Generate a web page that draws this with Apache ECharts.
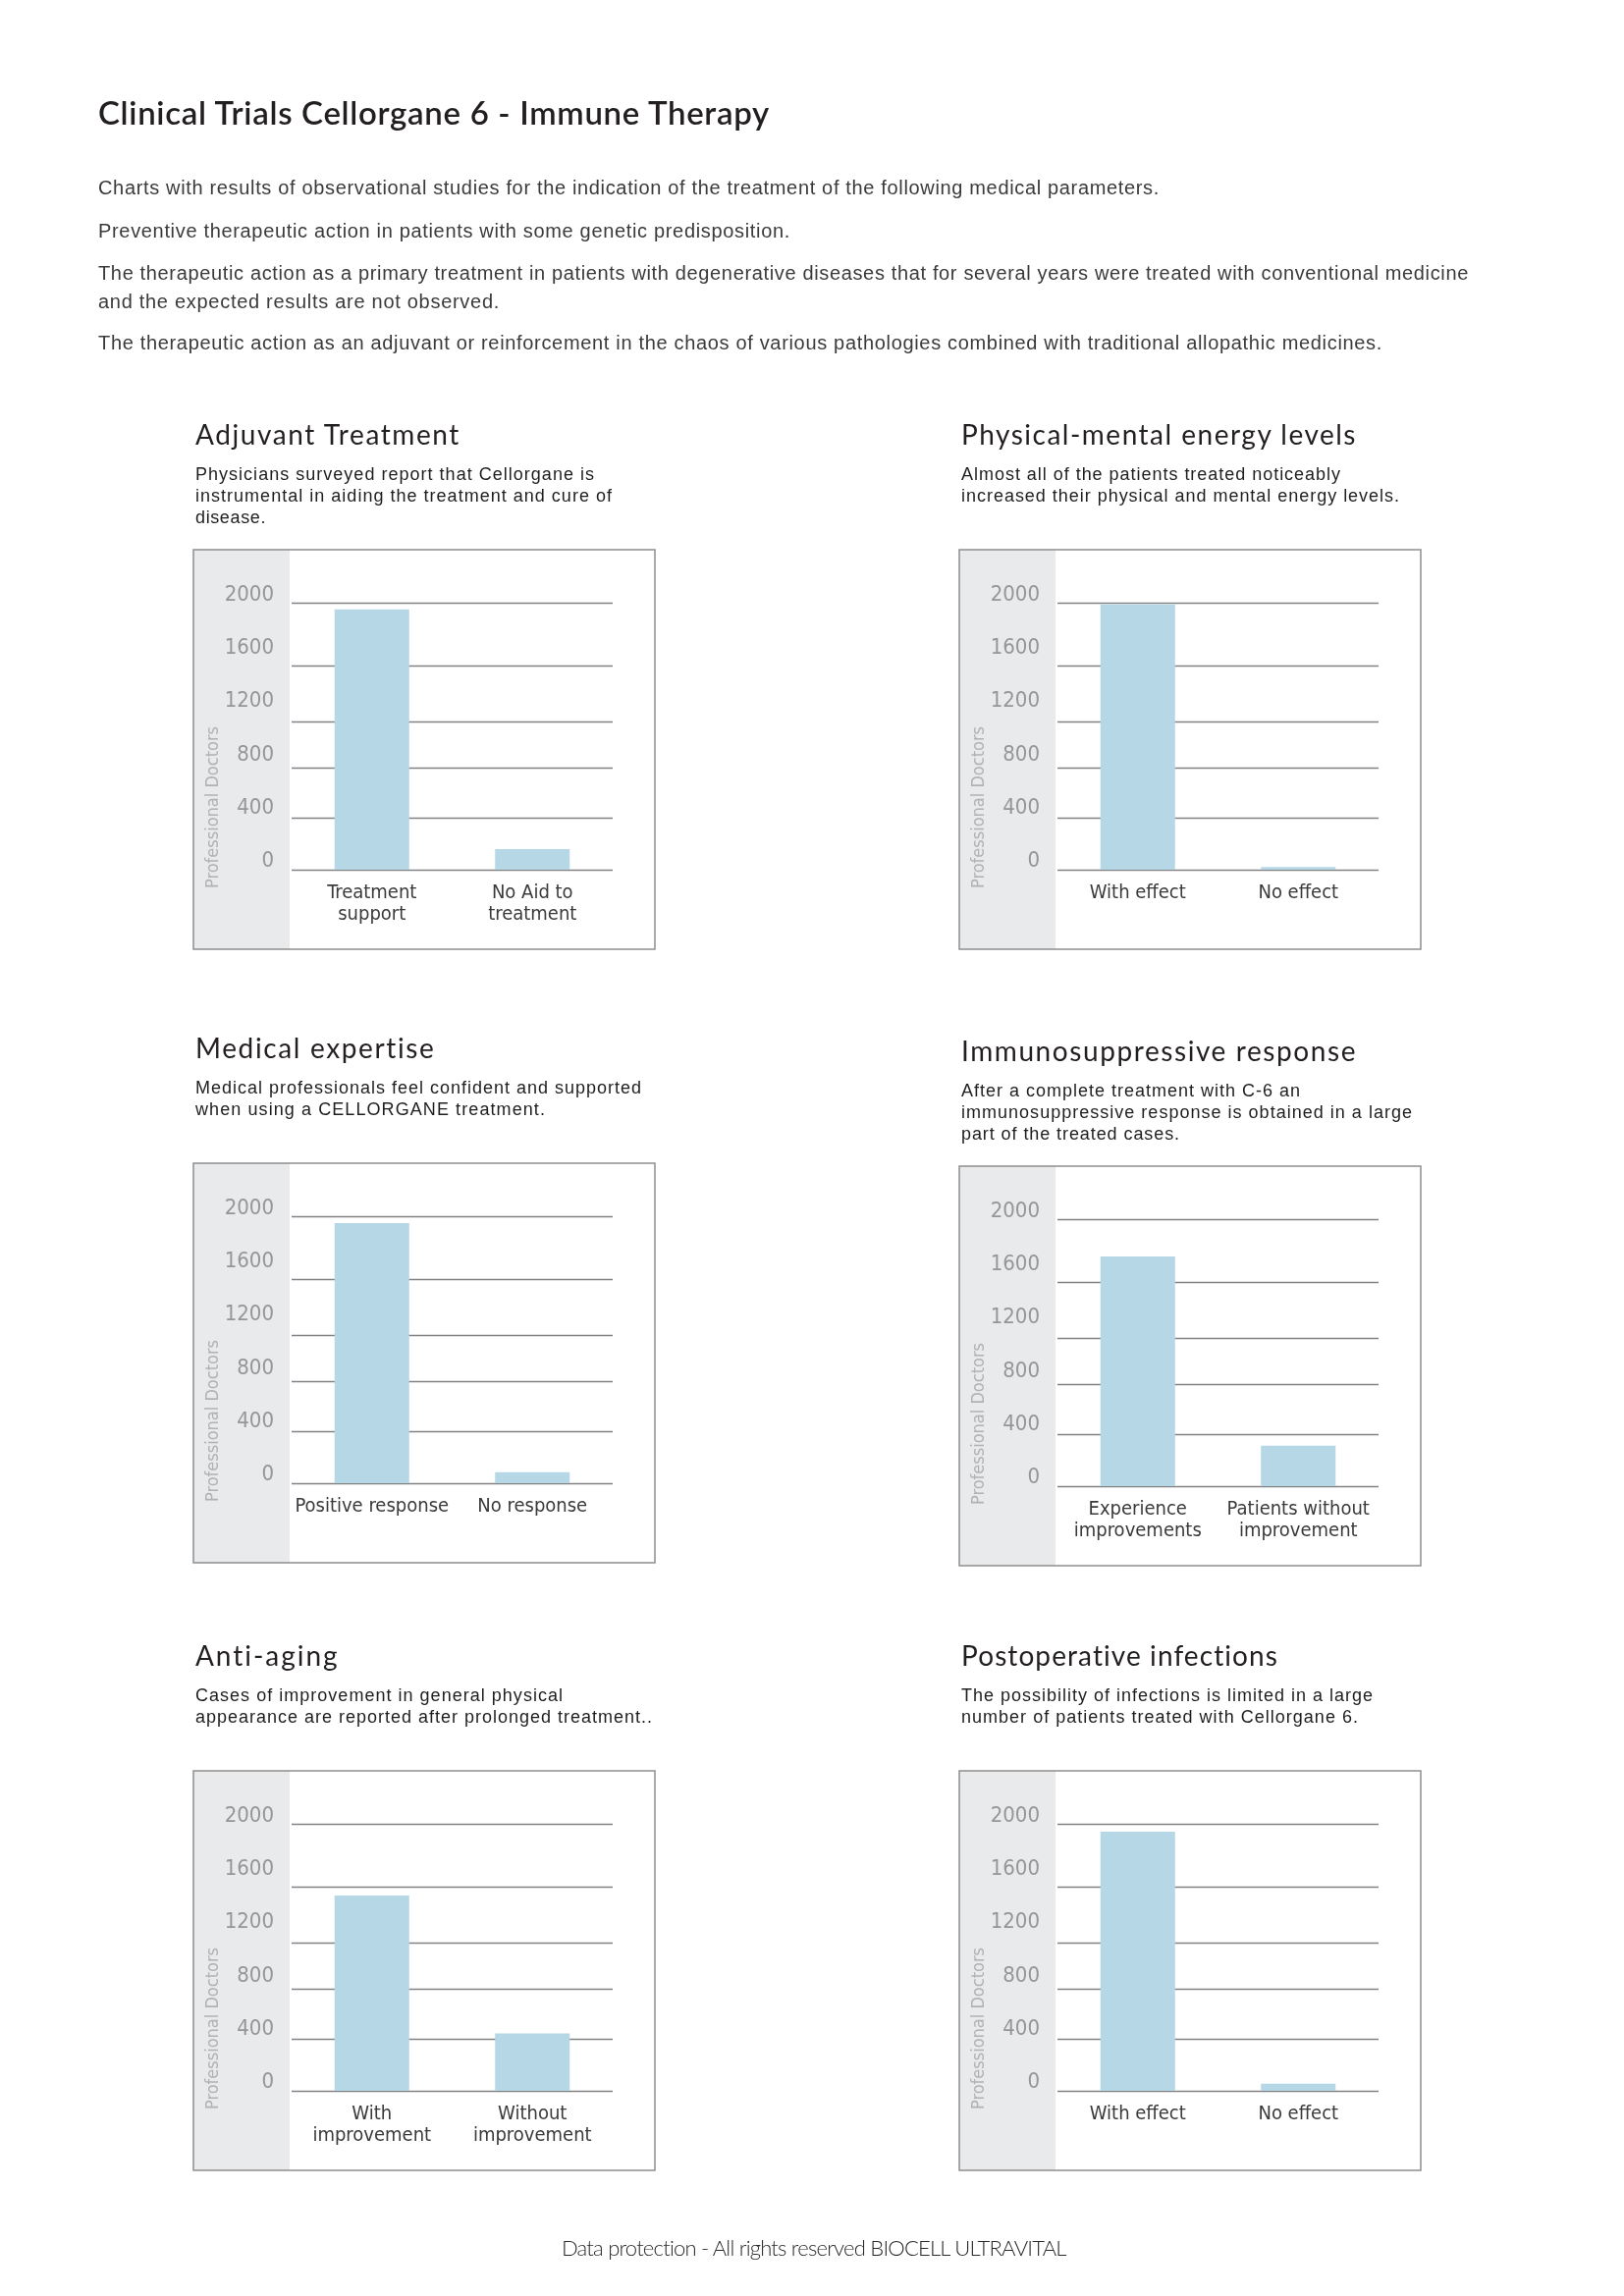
<!DOCTYPE html>
<html><head><meta charset="utf-8">
<script src="https://cdn.jsdelivr.net/npm/echarts@6/dist/echarts.min.js"></script>
<style>
html,body{margin:0;padding:0;background:#fff;}
#page{position:relative;width:1654px;height:2339px;overflow:hidden;background:#fff;}
#chart{position:absolute;left:0;top:0;width:1654px;height:2339px;z-index:1;}
.t{position:absolute;white-space:nowrap;line-height:1;z-index:2;margin:0;padding:0;}
</style></head><body><div id="page"><div id="chart"></div></div>
<script>
// ---------- DATA ----------
const pageTitle = 'Clinical Trials Cellorgane 6 - Immune Therapy';
const introLines = [
  'Charts with results of observational studies for the indication of the treatment of the following medical parameters.',
  'Preventive therapeutic action in patients with some genetic predisposition.',
  'The therapeutic action as a primary treatment in patients with degenerative diseases that for several years were treated with conventional medicine',
  'and the expected results are not observed.',
  'The therapeutic action as an adjuvant or reinforcement in the chaos of various pathologies combined with traditional allopathic medicines.'
];
const chartTitles = ['Adjuvant Treatment','Physical-mental energy levels','Medical expertise','Immunosuppressive response','Anti-aging','Postoperative infections'];
const chartSubtitles = [
  ['Physicians surveyed report that Cellorgane is','instrumental in aiding the treatment and cure of','disease.'],
  ['Almost all of the patients treated noticeably','increased their physical and mental energy levels.'],
  ['Medical professionals feel confident and supported','when using a CELLORGANE treatment.'],
  ['After a complete treatment with C-6 an','immunosuppressive response is obtained in a large','part of the treated cases.'],
  ['Cases of improvement in general physical','appearance are reported after prolonged treatment..'],
  ['The possibility of infections is limited in a large','number of patients treated with Cellorgane 6.']
];
const yAxisName = 'Professional Doctors';
const footerText = 'Data protection - All rights reserved BIOCELL ULTRAVITAL';

const categories1 = ['Treatment\nsupport','No Aid to\ntreatment'];
const values1 = [1952, 155];
const categories2 = ['With effect','No effect'];
const values2 = [1989, 21];
const categories3 = ['Positive response','No response'];
const values3 = [1951, 83];
const categories4 = ['Experience\nimprovements','Patients without\nimprovement'];
const values4 = [1723, 303];
const categories5 = ['With\nimprovement','Without\nimprovement'];
const values5 = [1464, 430];
const categories6 = ['With effect','No effect'];
const values6 = [1943, 54];

const yMin = 0, yMax = 2000, yStep = 400;
const gridLineValues = [0, 385, 765, 1112, 1529, 2000];

// ---------- LAYOUT ----------
const boxes = [[197,560],[977,560],[197,1185],[977,1188],[197,1804],[977,1804]];
const BOX_W = 470, BOX_H = 407;
const FUT = '"Lato","Open Sans",sans-serif';
const HEL = '"Liberation Sans",Arial,sans-serif';
const NARROW = '"Liberation Sans Narrow","DejaVu Sans Condensed",sans-serif';

const page = document.getElementById('page');
const fitList = [];
function addText(str, x, baseline, fam, size, color, weight, targetW, kBase, center){
  const d = document.createElement('div');
  d.className = 't';
  d.textContent = str;
  d.style.fontFamily = fam;
  d.style.fontSize = size + 'px';
  d.style.height = size + 'px';
  d.style.color = color;
  d.style.fontWeight = weight;
  d.style.top = (baseline - kBase*size) + 'px';
  d.style.left = x + 'px';
  page.appendChild(d);
  fitList.push({d, str, x, targetW, center});
}
function fitAll(){
  fitList.forEach(f=>{
    f.d.style.letterSpacing = '0px';
    const nat = f.d.getBoundingClientRect().width;
    const ls = (f.targetW - nat) / f.str.length;
    f.d.style.letterSpacing = ls + 'px';
    if (f.center) f.d.style.left = (f.x - f.targetW/2) + 'px';
  });
}

addText(pageTitle, 100, 127, FUT, 33, '#231f20', 600, 684, 0.887);
const introBase = [198, 241.5, 285, 313.5, 356];
const introW = [1081, 705, 1396, 409, 1308];
introLines.forEach((s,i)=>addText(s, 100, introBase[i], HEL, 20, '#3a3a3a', 400, introW[i], 0.846));

const titleW = [270, 403, 245, 403, 147, 324];
const subW = [[407,425,72],[387,447],[455,357],[346,460,223],[375,466],[420,405]];
const subOff = [-70.5, -48.5, -26.5];
chartTitles.forEach((s,i)=>{
  const [bx,by] = boxes[i];
  addText(s, bx+2, by-107, FUT, 28, '#231f20', 400, titleW[i], 0.887);
  chartSubtitles[i].forEach((l,j)=>addText(l, bx+2, by+subOff[j], HEL, 18, '#1e1e1e', 400, subW[i][j], 0.846));
});
addText(footerText, 829, 2299, FUT, 22, '#2a2a2a', 300, 514, 0.887, true);
fitAll();
if (document.fonts && document.fonts.ready) document.fonts.ready.then(fitAll);

// ---------- CHARTS ----------
const chartData = [
  {cats: categories1, vals: values1},
  {cats: categories2, vals: values2},
  {cats: categories3, vals: values3},
  {cats: categories4, vals: values4},
  {cats: categories5, vals: values5},
  {cats: categories6, vals: values6}
];
const grid = [], xAxis = [], yAxis = [], series = [], graphicEls = [];
chartData.forEach((d,i)=>{
  const [bx,by] = boxes[i];
  graphicEls.push({type:'rect', z:0, silent:true, shape:{x:bx, y:by, width:BOX_W, height:BOX_H}, style:{fill:'#ffffff', stroke:null}});
  graphicEls.push({type:'rect', z:0, silent:true, shape:{x:bx, y:by, width:98, height:BOX_H}, style:{fill:'#e9eaec'}});
  graphicEls.push({type:'rect', z:0, silent:true, shape:{x:bx, y:by, width:BOX_W, height:BOX_H}, style:{fill:'none', stroke:'#8e8e8e', lineWidth:1.5}});
  graphicEls.push({type:'text', z:3, silent:true, x:bx+20, y:by+262.5, rotation:Math.PI/2,
    style:{text:yAxisName, fill:'#b2b2b2', fontSize:18, fontFamily:NARROW, align:'center', verticalAlign:'middle'}});
  grid.push({left:bx+100, top:by+54.3, width:327, height:271.7});
  xAxis.push({type:'category', gridIndex:i, data:d.cats,
    axisLine:{show:false}, axisTick:{show:false}, splitLine:{show:false},
    axisLabel:{interval:0, color:'#3a3a3a', fontFamily:NARROW, fontSize:20, lineHeight:22, margin:13}});
  yAxis.push({type:'value', gridIndex:i, min:yMin, max:yMax, interval:yStep,
    splitLine:{show:false}, axisLine:{show:false}, axisTick:{show:false},
    axisLabel:{color:'#969696', fontFamily:NARROW, fontSize:22, margin:18, verticalAlign:'bottom', lineHeight:17,
      formatter: v => String(v)}});
  series.push({type:'bar', xAxisIndex:i, yAxisIndex:i, data:d.vals, barWidth:76, z:2, silent:true,
    itemStyle:{color:'#b5d7e6'},
    markLine:{silent:true, z:1, symbol:'none', animation:false, label:{show:false},
      emphasis:{disabled:true},
      lineStyle:{color:'#828282', width:1.3, type:'solid'},
      data: gridLineValues.map(v=>({yAxis:v}))}});
});

const chart = echarts.init(document.getElementById('chart'), null, {renderer:'canvas', width:1654, height:2339});
chart.setOption({
  animation:false,
  backgroundColor:'transparent',
  graphic:{elements:graphicEls},
  grid, xAxis, yAxis, series
});
</script></body></html>
